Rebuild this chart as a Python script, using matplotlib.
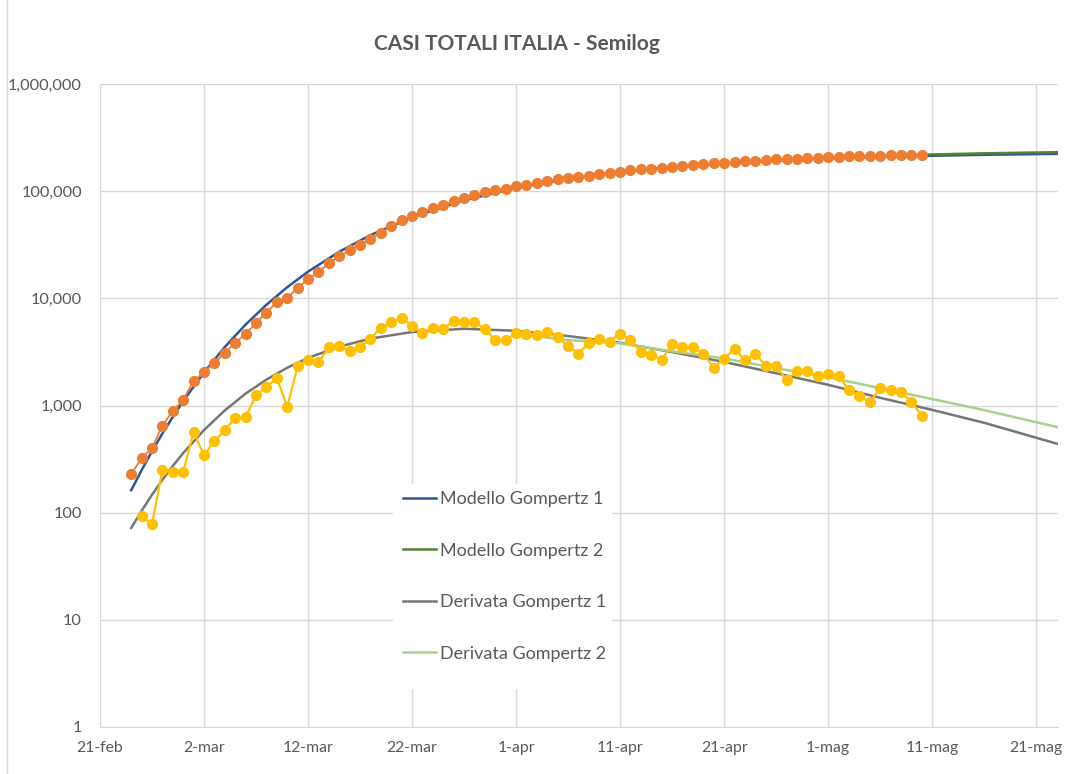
import matplotlib
matplotlib.use("Agg")
import matplotlib.pyplot as plt
from matplotlib.lines import Line2D
from matplotlib.patches import Rectangle
from matplotlib.ticker import FixedLocator, NullLocator

plt.rcParams["font.family"] = ["Lato", "DejaVu Sans"]

# x is days since 21-feb
TICK_DAYS = [0, 10, 20, 30, 40, 50, 60, 70, 80, 90]
TICK_LABELS = ["21-feb", "2-mar", "12-mar", "22-mar", "1-apr", "11-apr",
               "21-apr", "1-mag", "11-mag", "21-mag"]

# casi totali (24-feb .. 10-mag)
cases_start = 3
total_cases = [229, 322, 400, 650, 888, 1128, 1694, 2036, 2502, 3089, 3858, 4636,
               5883, 7375, 9172, 10149, 12462, 15113, 17660, 21157, 24747, 27980,
               31506, 35713, 41035, 47021, 53578, 59138, 63927, 69176, 74386,
               80539, 86498, 92472, 97689, 101739, 105792, 110574, 115242,
               119827, 124632, 128948, 132547, 135586, 139422, 143626, 147577,
               152271, 156363, 159516, 162488, 165155, 168941, 172434, 175925,
               178972, 181228, 183957, 187327, 189973, 192994, 195351, 197675,
               199414, 201505, 203591, 205463, 207428, 209328, 210717, 211938,
               213013, 214457, 215858, 217185, 218268, 219070]

# nuovi casi giornalieri (25-feb .. 10-mag)
new_start = 4
new_cases = [93, 78, 250, 238, 240, 566, 342, 466, 587, 769, 778, 1247, 1492, 1797,
             977, 2313, 2651, 2547, 3497, 3590, 3233, 3526, 4207, 5322, 5986, 6557,
             5560, 4789, 5249, 5210, 6153, 5959, 5974, 5217, 4050, 4053, 4782, 4668,
             4585, 4805, 4316, 3599, 3039, 3836, 4204, 3951, 4694, 4092, 3153, 2972,
             2667, 3786, 3493, 3491, 3047, 2256, 2729, 3370, 2646, 3021, 2357, 2324,
             1739, 2091, 2086, 1872, 1965, 1900, 1389, 1221, 1075, 1444, 1401, 1327,
             1083, 802]

g1_days = [3, 4, 5, 6, 7, 8, 10, 12, 14, 16, 18, 20, 23, 26, 30, 35, 40, 45, 50,
           55, 60, 65, 70, 75, 80, 85, 92]
gompertz1 = [162, 249, 374, 548, 784, 1100, 2036, 3514, 5690, 8710, 12700, 17740,
             27200, 38900, 57100, 82100, 107400, 130800, 151000, 168000, 181800,
             193000, 202000, 209000, 214000, 218500, 223000]
deriv1 = [72, 104, 147, 203, 273, 360, 590, 900, 1290, 1745, 2250, 2780, 3540, 4210,
          4850, 5200, 4980, 4450, 3850, 3150, 2550, 2000, 1560, 1180, 910, 690, 440]

g2_days = [40, 45, 50, 55, 60, 65, 70, 75, 80, 85, 92]
gompertz2 = [110000, 131000, 150000, 167000, 181000, 193000, 203500, 212000,
             220000, 225500, 231000]
deriv2 = [4650, 4080, 3800, 3200, 2750, 2230, 1840, 1450, 1150, 905, 630]

TEXT = "#595959"
GRID = "#d9d9d9"
W, H = 1084, 774

fig = plt.figure(figsize=(W / 100, H / 100), dpi=100)
ax = fig.add_axes([100 / W, 1 - 727 / H, 958 / W, 643 / H])

ax.plot(g1_days, gompertz1, color="#2f5597", lw=1.8, label="Modello Gompertz 1", zorder=3)
ax.plot(g2_days, gompertz2, color="#548235", lw=1.8, label="Modello Gompertz 2", zorder=3)
ax.plot(g1_days, deriv1, color="#767676", lw=1.8, label="Derivata Gompertz 1", zorder=3)
ax.plot(g2_days, deriv2, color="#a9d18e", lw=1.8, label="Derivata Gompertz 2", zorder=3)

cx = list(range(cases_start, cases_start + len(total_cases)))
nx = list(range(new_start, new_start + len(new_cases)))
ax.plot(cx, total_cases, color="#ed7d31", lw=1.3, marker="o", ms=7,
        mec="#ed7d31", zorder=4)
ax.plot(nx, new_cases, color="#ffc000", lw=1.6, marker="o", ms=7,
        mec="#ffc000", zorder=4)

ax.set_yscale("log")
ax.set_ylim(1, 1_000_000)
ax.set_xlim(0, 92.1)
ax.yaxis.set_major_locator(FixedLocator([1, 10, 100, 1e3, 1e4, 1e5, 1e6]))
ax.yaxis.set_minor_locator(NullLocator())
ax.set_yticklabels([f"{int(v):,}" for v in [1, 10, 100, 1e3, 1e4, 1e5, 1e6]])
ax.set_xticks(TICK_DAYS)
ax.set_xticklabels(TICK_LABELS)
ax.tick_params(length=0, colors=TEXT)
ax.tick_params(axis="y", pad=13, labelsize=11.8)
ax.tick_params(axis="x", pad=10, labelsize=11.3)

ax.grid(True, color=GRID, lw=1.0)
ax.set_axisbelow(True)
for s in ["top", "right"]:
    ax.spines[s].set_visible(False)
ax.spines["left"].set_color(GRID)
ax.spines["bottom"].set_color(GRID)

# white box behind the legend, hides the gridlines
ax.add_patch(Rectangle((393 / W, 1 - 689 / H), 219 / W, 205 / H,
                       transform=fig.transFigure, facecolor="white",
                       edgecolor="none", zorder=2))
leg = ax.legend(loc="upper left", bbox_to_anchor=(394 / W, 1 - 482 / H),
                bbox_transform=fig.transFigure, frameon=False, fontsize=13,
                handlelength=1.85, handletextpad=0.22, labelspacing=1.97,
                borderpad=0)
for t in leg.get_texts():
    t.set_color(TEXT)

fig.text(517 / W, 1 - 44 / H, "CASI TOTALI ITALIA - Semilog", ha="center",
         va="center", fontsize=15, fontweight="bold", color=TEXT)

fig.add_artist(Line2D([6.5 / W, 6.5 / W], [0, 1], transform=fig.transFigure,
                      color=GRID, lw=1.0))

fig.savefig("out.png", dpi=100)
